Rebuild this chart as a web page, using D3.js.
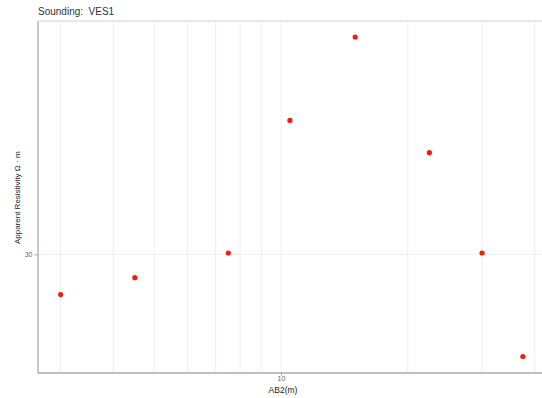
<!DOCTYPE html>
<html>
<head>
<meta charset="utf-8">
<script src="https://cdn.jsdelivr.net/npm/d3@7/dist/d3.min.js"></script>
<style>
  html, body { margin: 0; padding: 0; background: #fff; }
  svg { display: block; font-family: "Liberation Sans", Arial, sans-serif; }
  text { white-space: pre; }
</style>
</head>
<body>
<svg id="chart" width="542" height="398"></svg>
<script>
// Sounding VES1: half electrode spacing (m) vs apparent resistivity (ohm·m)
const ab2 = [3, 4.5, 7.5, 10.5, 15, 22.5, 30, 37.5];
const resistivity = [27.3, 28.4, 30.1, 41.1, 50.0, 38.1, 30.1, 23.6];
const xTicks = [10];
const yTicks = [30];
const xMinor = [3, 4, 5, 6, 7, 8, 9, 20, 30, 40];

const svg = d3.select("#chart");
const panel = { left: 37.5, top: 21, right: 546, bottom: 372.5 };

// log scales with 5% padding on each side, in log space
function paddedLogDomain(values) {
  const lo = Math.log10(d3.min(values)), hi = Math.log10(d3.max(values));
  const pad = (hi - lo) * 0.05;
  return [Math.pow(10, lo - pad), Math.pow(10, hi + pad)];
}

const x = d3.scaleLog().domain(paddedLogDomain(ab2)).range([panel.left, panel.right]);
const y = d3.scaleLog().domain(paddedLogDomain(resistivity)).range([panel.bottom, panel.top]);

// grid
const grid = svg.append("g");
grid.selectAll("line.vx").data(xMinor.concat(xTicks)).join("line")
  .attr("x1", d => x(d)).attr("x2", d => x(d))
  .attr("y1", panel.top).attr("y2", panel.bottom)
  .attr("stroke", "#ebebeb").attr("stroke-width", 0.8);
grid.selectAll("line.hy").data(yTicks).join("line")
  .attr("x1", panel.left).attr("x2", panel.right)
  .attr("y1", d => y(d)).attr("y2", d => y(d))
  .attr("stroke", "#ebebeb").attr("stroke-width", 0.8);

// panel frame
svg.append("line").attr("x1", panel.left).attr("x2", panel.right)
  .attr("y1", panel.top).attr("y2", panel.top)
  .attr("stroke", "#d4d4d4").attr("stroke-width", 1);

// axes
const xAxis = d3.axisBottom(x).tickValues(xTicks).tickFormat(d3.format("d"))
  .tickSizeInner(3).tickSizeOuter(0).tickPadding(1);
const gx = svg.append("g").attr("transform", `translate(0,${panel.bottom})`).call(xAxis);
gx.select(".domain").attr("stroke", "#a8a8a8").attr("stroke-width", 1.3);
gx.selectAll(".tick line").attr("stroke", "#a8a8a8");
gx.selectAll(".tick text").attr("fill", "#666").attr("font-size", 7);

const yAxis = d3.axisLeft(y).tickValues(yTicks).tickFormat(d3.format("d"))
  .tickSizeInner(3).tickSizeOuter(0).tickPadding(2);
const gy = svg.append("g").attr("transform", `translate(${panel.left},0)`).call(yAxis);
gy.select(".domain").attr("stroke", "#a8a8a8").attr("stroke-width", 1.3);
gy.selectAll(".tick line").attr("stroke", "#a8a8a8");
gy.selectAll(".tick text").attr("fill", "#666").attr("font-size", 7);

// points
svg.append("g").selectAll("circle").data(ab2.map((d, i) => [d, resistivity[i]])).join("circle")
  .attr("cx", d => x(d[0])).attr("cy", d => y(d[1]))
  .attr("r", 2.6).attr("fill", "#f21c0c");

// labels
svg.append("text").attr("x", 38).attr("y", 15)
  .attr("font-size", 10).attr("fill", "#333").text("Sounding:  VES1");
svg.append("text").attr("x", 283).attr("y", 393).attr("text-anchor", "middle")
  .attr("font-size", 8.5).attr("fill", "#222").text("AB2(m)");
svg.append("text").attr("transform", `translate(20,${(panel.top + panel.bottom) / 2 + 1}) rotate(-90)`)
  .attr("text-anchor", "middle").attr("font-size", 8).attr("fill", "#222")
  .text("Apparent Resistivity Ω · m");
</script>
</body>
</html>
